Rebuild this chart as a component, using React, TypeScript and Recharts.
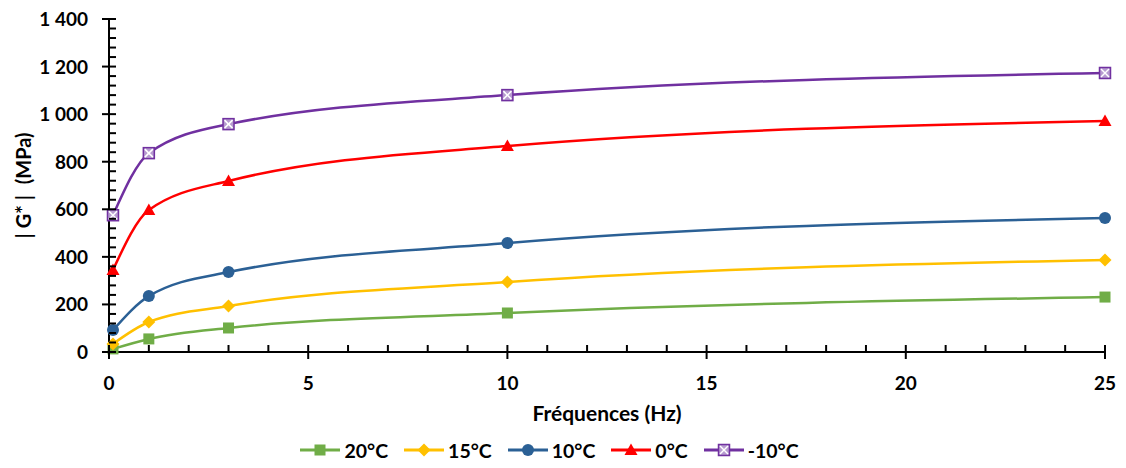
import React from "react";
import { LineChart, Line, XAxis, YAxis, Legend } from "recharts";

// frequencies (Hz) and |G*| (MPa) per temperature
const freq = [0.1, 1, 3, 10, 25];
const g20 = [13, 55, 101, 164, 231];
const g15 = [34, 126, 193, 294, 387];
const g10 = [92, 235, 336, 458, 563];
const g0 = [345, 597, 719, 866, 971];
const gm10 = [575, 836, 958, 1080, 1173];

const xMajor = [0, 5, 10, 15, 20, 25];
const yMajor = [0, 200, 400, 600, 800, 1000, 1200, 1400];
const xMinor = Array.from({ length: 26 }, (_, i) => i);
const yMinor = Array.from({ length: 36 }, (_, i) => i * 40);

const FONT = "Lato, 'Open Sans', sans-serif";

const series = [
  { key: "t20", name: "20°C", color: "#70AD47", shape: "square", values: g20 },
  { key: "t15", name: "15°C", color: "#FFC000", shape: "diamond", values: g15 },
  { key: "t10", name: "10°C", color: "#2B6095", shape: "circle", values: g10 },
  { key: "t0", name: "0°C", color: "#FF0000", shape: "triangle", values: g0 },
  { key: "tm10", name: "-10°C", color: "#7030A0", shape: "xbox", values: gm10 },
];

const rows = freq.map((f, i) => {
  const r: any = { f };
  series.forEach((s) => (r[s.key] = s.values[i]));
  return r;
});

const fmt = (v: number) => String(v).replace(/\B(?=(\d{3})+(?!\d))/g, " ");

function Marker({ shape, color, cx, cy }: { shape: string; color: string; cx: number; cy: number }) {
  if (shape === "square") return <rect x={cx - 5.5} y={cy - 5.5} width={11} height={11} fill={color} />;
  if (shape === "diamond")
    return <polygon points={`${cx},${cy - 6.5} ${cx + 6.5},${cy} ${cx},${cy + 6.5} ${cx - 6.5},${cy}`} fill={color} />;
  if (shape === "circle") return <circle cx={cx} cy={cy} r={6} fill={color} />;
  if (shape === "triangle")
    return <polygon points={`${cx},${cy - 6.5} ${cx + 6.5},${cy + 5} ${cx - 6.5},${cy + 5}`} fill={color} />;
  return (
    <g>
      <rect x={cx - 5.5} y={cy - 5.5} width={11} height={11} fill="#B79BD0" stroke={color} strokeWidth={1.5} />
      <line x1={cx - 4} y1={cy - 4} x2={cx + 4} y2={cy + 4} stroke="#fff" strokeWidth={1.5} />
      <line x1={cx - 4} y1={cy + 4} x2={cx + 4} y2={cy - 4} stroke="#fff" strokeWidth={1.5} />
    </g>
  );
}

const XTick = (props: any) => {
  const { x, y, payload } = props;
  const v = payload.value;
  const major = xMajor.includes(v);
  return (
    <g>
      <line x1={x} x2={x} y1={y} y2={y - 7} stroke="#000" strokeWidth={2} />
      {major && <line x1={x} x2={x} y1={y} y2={y + 7} stroke="#000" strokeWidth={2} />}
      {major && (
        <text x={x} y={y + 38} textAnchor="middle" fontFamily={FONT} fontWeight={700} fontSize={19} fill="#000">
          {fmt(v)}
        </text>
      )}
    </g>
  );
};

const YTick = (props: any) => {
  const { x, y, payload } = props;
  const v = payload.value;
  const major = yMajor.includes(v);
  return (
    <g>
      <line x1={x} x2={x + 7} y1={y} y2={y} stroke="#000" strokeWidth={2} />
      {major && <line x1={x} x2={x - 7} y1={y} y2={y} stroke="#000" strokeWidth={2} />}
      {major && (
        <text x={x - 21} y={y + 7} textAnchor="end" fontFamily={FONT} fontWeight={700} fontSize={19} fill="#000">
          {fmt(v)}
        </text>
      )}
    </g>
  );
};

const LegendContent = () => (
  <div
    style={{
      display: "flex",
      justifyContent: "center",
      alignItems: "center",
      gap: 16,
      height: 36,
      fontFamily: FONT,
      fontWeight: 700,
      fontSize: 19.5,
      color: "#000",
      paddingRight: 6,
    }}
  >
    {series.map((s) => (
      <div key={s.key} style={{ display: "flex", alignItems: "center" }}>
        <svg width={40} height={16}>
          <line x1={0} x2={40} y1={8} y2={8} stroke={s.color} strokeWidth={3} />
          <Marker shape={s.shape} color={s.color} cx={20} cy={8} />
        </svg>
        <span style={{ marginLeft: 4 }}>{s.name}</span>
      </div>
    ))}
  </div>
);

export default function App() {
  return (
    <div style={{ position: "absolute", left: 0, top: 0, background: "#fff" }}>
      <LineChart width={1126} height={468} data={rows} margin={{ top: 19, right: 21, left: 0, bottom: 0 }}>
        <XAxis
          type="number"
          dataKey="f"
          domain={[0, 25]}
          ticks={xMinor}
          interval={0}
          tickSize={0}
          tickMargin={0}
          tickLine={false}
          tick={<XTick />}
          height={80}
          axisLine={{ stroke: "#000", strokeWidth: 2 }}
          label={(p: any) => {
            const vb = p.viewBox;
            return (
              <text x={vb.x + vb.width / 2} y={vb.y + 69} textAnchor="middle" fontFamily={FONT} fontWeight={700} fontSize={21} fill="#000">
                Fréquences (Hz)
              </text>
            );
          }}
        />
        <YAxis
          type="number"
          domain={[0, 1400]}
          ticks={yMinor}
          interval={0}
          width={109}
          tickSize={0}
          tickMargin={0}
          tickLine={false}
          tick={<YTick />}
          axisLine={{ stroke: "#000", strokeWidth: 2 }}
          label={(p: any) => {
            const vb = p.viewBox;
            const cy = vb.y + vb.height / 2;
            return (
              <text x={31} y={cy} transform={`rotate(-90 31 ${cy})`} textAnchor="middle" fontFamily={FONT} fontWeight={700} fontSize={20} fill="#000">
                <tspan>|</tspan>
                <tspan dx={5}>G*</tspan>
                <tspan dx={5}>|</tspan>
                <tspan dx={6}> (MPa)</tspan>
              </text>
            );
          }}
        />
        <Legend verticalAlign="bottom" wrapperStyle={{ height: 36 }} content={<LegendContent />} />
        {series.map((s) => (
          <Line
            key={s.key}
            dataKey={s.key}
            name={s.name}
            type="monotone"
            stroke={s.color}
            strokeWidth={2.5}
            isAnimationActive={false}
            dot={(d: any) => <Marker key={`${s.key}-${d.index}`} shape={s.shape} color={s.color} cx={d.cx} cy={d.cy} />}
            activeDot={false}
          />
        ))}
      </LineChart>
    </div>
  );
}
